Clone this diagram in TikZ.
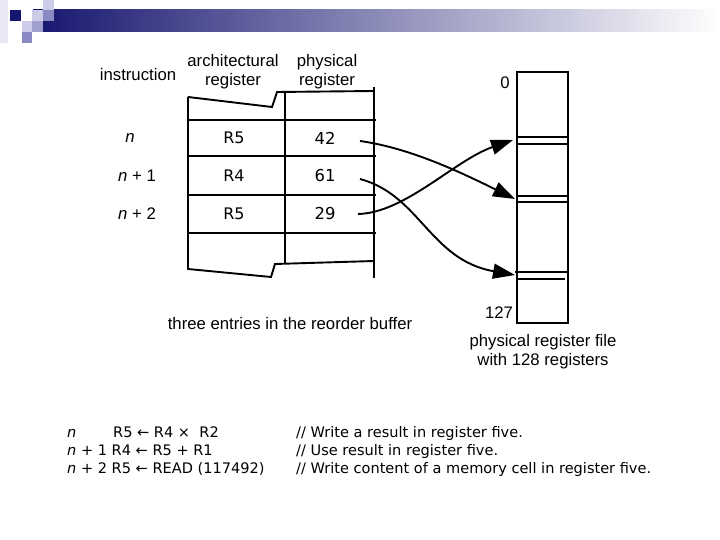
\documentclass[tikz,border=0pt]{standalone}
\usepackage{fontspec}
\setmainfont{Liberation Sans}
\newfontfamily\codefont{DejaVu Sans}
\usetikzlibrary{arrows.meta, positioning}

\definecolor{navyblue}{RGB}{22,22,112}
\definecolor{midlilac}{RGB}{136,136,194}
\definecolor{palelilac}{RGB}{204,204,232}

\begin{document}
\begin{tikzpicture}[
    x=1bp, y=-1bp,
    label/.style={font=\fontsize{16.8}{19}\selectfont, align=center, inner sep=0pt},
    cell/.style={font=\codefont\fontsize{16}{18}\selectfont, inner sep=0pt},
    number/.style={font=\codefont\fontsize{16.5}{18}\selectfont, inner sep=0pt},
    code/.style={font=\codefont\fontsize{14.6}{16}\selectfont, anchor=base west, inner sep=0pt},
    frame/.style={draw=black, line width=1.9bp},
    arrow/.style={-{Triangle[length=22bp, width=15bp]}, line width=1.9bp, draw=black}
]
\useasboundingbox (0,0) rectangle (720,540);

% slide header
\shade[left color=navyblue, right color=white] (33,10) rectangle (720,32);
\fill[palelilac!45] (0,0) rectangle (8,43);
\fill[navyblue] (10,10) rectangle (21,21);
\fill[palelilac] (32,10) rectangle (43,21);
\fill[palelilac] (43,0) rectangle (54,10);
\fill[midlilac] (43,10) rectangle (54,21);
\fill[palelilac] (22,21) rectangle (32,32);
\fill[midlilac!80] (32,21) rectangle (43,32);
\fill[midlilac] (22,32) rectangle (32,43);

% column heads
\node[label] (instr) at (138,75) {instruction};
\node[label] (archreg) at (233,72) {architectural\\register};
\node[label] (physreg) at (327,72) {physical\\register};

% reorder buffer
\draw[frame] (188,97) -- (272,107) -- (277,92) -- (374,91);
\draw[frame] (188,97) -- (188,269) -- (271,277) -- (275,264) -- (374,261);
\draw[frame] (285,92) -- (285,263);
\draw[frame] (374,87) -- (374,278);
\foreach \y in {120,156,195,233}
  \draw[frame] (188,\y) -- (376,\y);

\node[label] (rown) at (130,138) {\textit{n}};
\node[label] (rown1) at (137,176) {\textit{n} + 1};
\node[label] (rown2) at (137,214) {\textit{n} + 2};

\node[cell] (arch0) at (234,138) {R5};
\node[cell] (arch1) at (234,176) {R4};
\node[cell] (arch2) at (234,214) {R5};
\node[number] (p42) at (325,138) {42};
\node[number] (p61) at (325,176) {61};
\node[number] (p29) at (325,214) {29};

\node[label] (robcaption) at (290,324) {three entries in the reorder buffer};

% physical register file
\draw[frame] (517,72) rectangle (568,323);
\foreach \y in {137,144,196,202}
  \draw[frame] (517,\y) -- (568,\y);
\draw[frame] (515,272) -- (568,272);
\draw[frame] (517,279) -- (565,279);

\node[label] (first) at (505,83) {0};
\node[label] (last) at (499,313) {127};
\node[label] (rfcaption) at (543,352) {physical register file\\with 128 registers};

% mapping
\coordinate (from42) at (360,141);
\coordinate (from61) at (360,179);
\coordinate (from29) at (358,214);
\coordinate (slot42) at (515,199);
\coordinate (slot61) at (515,275);
\coordinate (slot29) at (513,140);

\draw[arrow] (from42) .. controls (410,148) and (460,172) .. (slot42);
\draw[arrow] (from61) .. controls (420,195) and (430,260) .. (slot61);
\draw[arrow] (from29) .. controls (405,213) and (455,160) .. (slot29);

% instruction sequence
\node[code] (seq0) at (67,437) {\textit{n}};
\node[code] (op0) at (113,437) {R5 ← R4 × \ R2};
\node[code] (op1) at (67,455) {\textit{n} + 1 R4 ← R5 + R1};
\node[code] (op2) at (67,473) {\textit{n} + 2 R5 ← READ (117492)};
\node[code] (note0) at (296,437) {// Write a result in register five.};
\node[code] (note1) at (296,455) {// Use result in register five.};
\node[code] (note2) at (296,473) {// Write content of a memory cell in register five.};

\end{tikzpicture}
\end{document}
